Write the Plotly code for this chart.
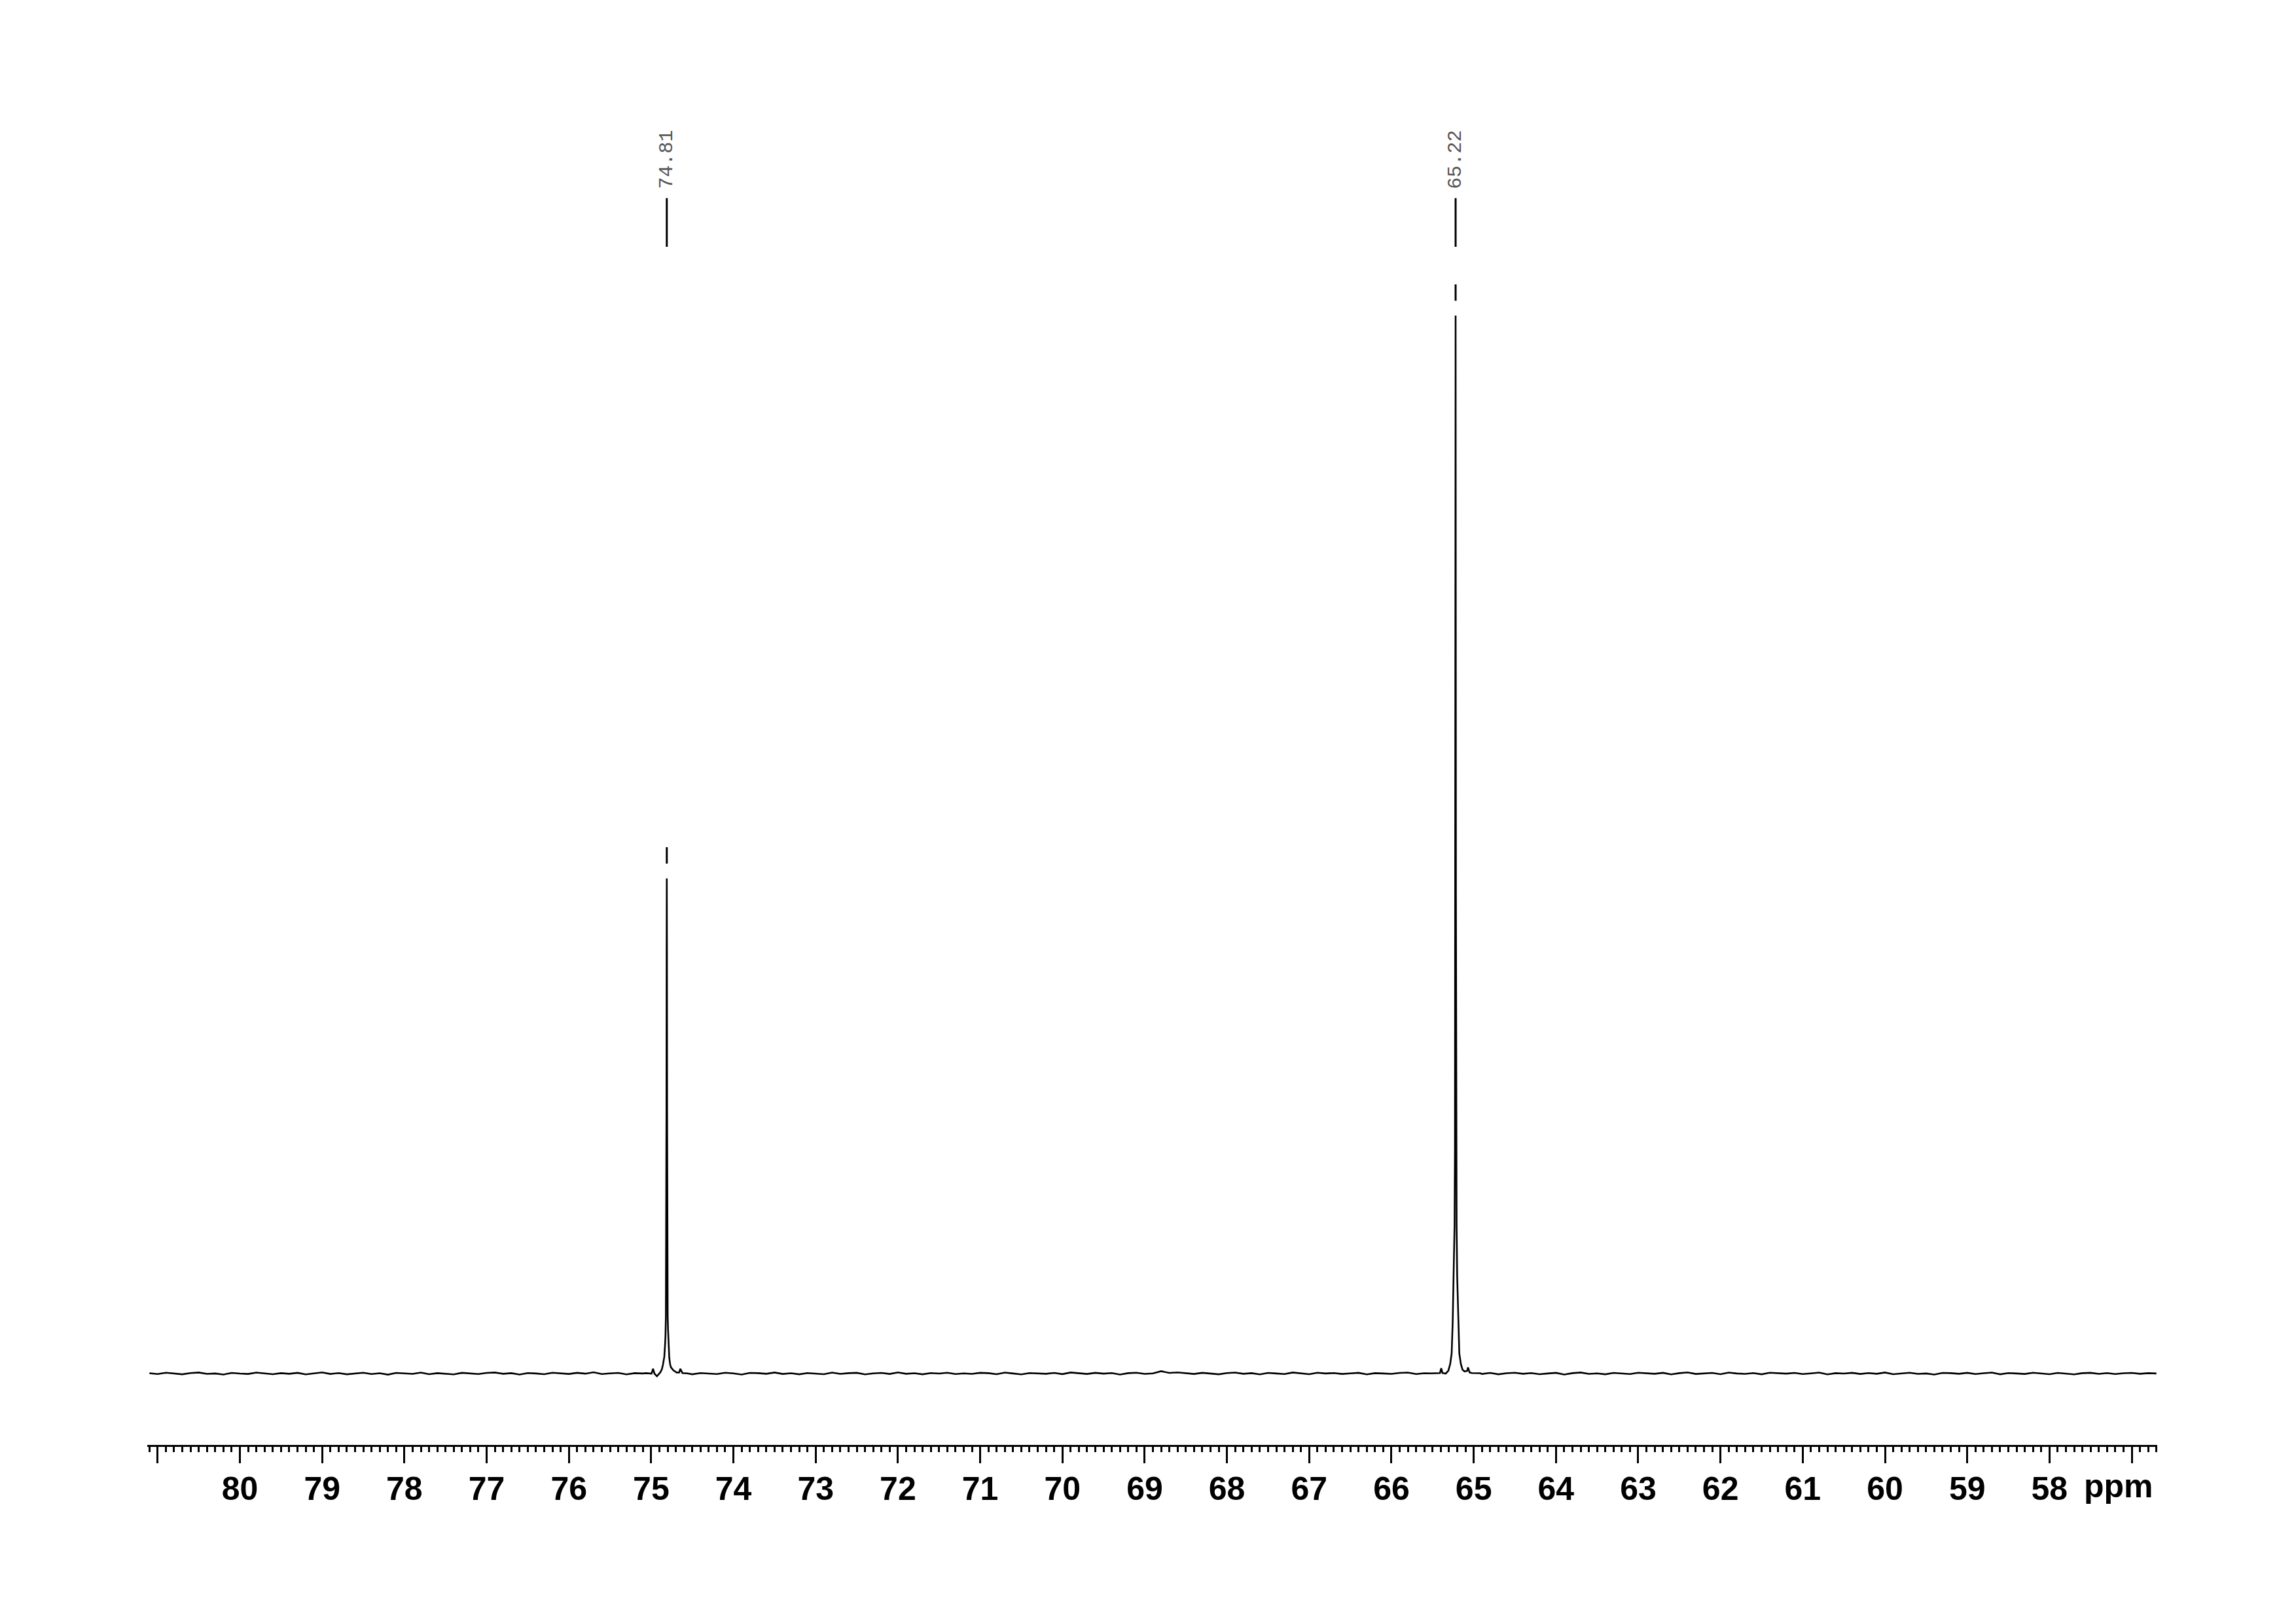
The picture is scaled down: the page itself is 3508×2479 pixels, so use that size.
import plotly.graph_objects as go

# ---- peaks ----
peak_ppm = [74.81, 65.22]
peak_labels = ["74.81", "65.22"]
peak_height = [46.8, 100.0]

# hand-read line-shape profiles around each peak (offset in ppm, intensity)
peak1_offset = [-0.25, -0.19, -0.165, -0.15, -0.12, -0.08, -0.05, -0.04, -0.03, -0.021,
                -0.015, -0.011, -0.007, -0.004, -0.002, 0.0, 0.002, 0.004, 0.007, 0.011,
                0.016, 0.022, 0.03, 0.045, 0.06, 0.08, 0.12, 0.15, 0.167, 0.185, 0.25]
peak1_intensity = [0.02, 0.05, 0.45, 0.10, 0.10, 0.30, 0.60, 0.90, 1.50, 2.95,
                   4.20, 5.40, 12.0, 25.0, 40.0, 46.8, 40.0, 25.0, 12.0, 5.40,
                   3.50, 2.60, 1.60, 0.90, 0.40, 0.10, -0.25, 0.00, 0.45, 0.00, 0.04]

peak2_offset = [-0.30, -0.20, -0.17, -0.151, -0.14, -0.11, -0.085, -0.064, -0.045, -0.037,
                -0.019, -0.012, -0.008, -0.004, 0.0, 0.004, 0.008, 0.013, 0.024, 0.035,
                0.048, 0.066, 0.088, 0.12, 0.16, 0.175, 0.19, 0.30]
peak2_intensity = [0.03, 0.05, 0.10, 0.58, 0.25, 0.20, 0.35, 0.90, 1.90, 5.00,
                   9.20, 14.0, 21.0, 45.0, 100.0, 45.0, 21.0, 14.0, 9.20, 5.00,
                   1.90, 0.90, 0.27, 0.00, 0.05, 0.50, 0.05, 0.02]

# baseline noise (estimated), sampled every 0.1 ppm from 81.1 ppm downward
baseline_start = 81.1
baseline_step = 0.1
baseline_noise = [
    0.03, -0.05, 0.08, 0.02, -0.07, 0.05, 0.10, -0.03, 0.01, -0.09, 0.06, 0.00, -0.04, 0.09, 0.03, -0.06, 0.04, -0.02, 0.07, -0.08,
    0.02, 0.11, -0.04, 0.05, -0.07, 0.01, 0.08, -0.05, 0.03, -0.10, 0.06, 0.02, -0.03, 0.09, -0.06, 0.04, 0.00, -0.08, 0.07, 0.03,
    -0.05, 0.06, 0.10, -0.02, 0.04, -0.09, 0.05, 0.01, -0.06, 0.08, 0.03, -0.04, 0.07, -0.01, 0.12, -0.05, 0.02, 0.06, -0.08, 0.04,
    0.01, -0.06, 0.09, 0.03, -0.03, 0.07, -0.07, 0.05, 0.00, -0.05, 0.08, 0.02, -0.09, 0.06, 0.04, -0.02, 0.10, -0.04, 0.03, -0.07,
    0.05, 0.01, -0.06, 0.09, -0.03, 0.04, 0.07, -0.08, 0.02, 0.06, -0.04, 0.11, -0.02, 0.03, -0.07, 0.05, 0.00, 0.08, -0.05, 0.02,
    -0.03, 0.07, 0.04, -0.06, 0.09, 0.01, -0.08, 0.05, 0.03, -0.02, 0.06, -0.05, 0.10, 0.02, -0.04, 0.07, -0.01, 0.05, -0.09, 0.04,
    0.08, -0.03, 0.02, 0.22, 0.06, 0.11, 0.03, -0.04, 0.07, 0.00, -0.07, 0.05, 0.09, -0.02, 0.04, -0.08, 0.06, 0.01, -0.05, 0.10,
    0.03, -0.06, 0.08, 0.01, 0.05, -0.04, 0.02, 0.07, -0.08, 0.04, 0.01, -0.03, 0.06, 0.09, -0.05, 0.03, -0.01, 0.07, -0.06, 0.05,
    0.02, 0.09, -0.04, 0.06, -0.07, 0.03, 0.08, -0.02, 0.05, -0.06, 0.01, 0.07, -0.09, 0.04, 0.10, -0.03, 0.02, -0.07, 0.06, 0.00,
    -0.05, 0.08, 0.03, -0.02, 0.07, -0.08, 0.04, 0.11, -0.04, 0.02, 0.06, -0.06, 0.09, 0.01, -0.03, 0.05, -0.07, 0.08, 0.03, -0.01,
    0.06, -0.05, 0.02, 0.09, -0.08, 0.04, 0.00, 0.07, -0.04, 0.05, -0.02, 0.10, -0.06, 0.03, 0.08, -0.03, 0.01, -0.09, 0.06, 0.04,
    -0.02, 0.07, -0.05, 0.03, 0.09, -0.07, 0.05, 0.01, -0.04, 0.08, 0.02, -0.06, 0.06, 0.00, -0.08, 0.04, 0.07, -0.03, 0.05, -0.05,
    0.03, 0.06, -0.02, 0.04, 0.01,
]

# axis ticks
tick_values = [81, 80, 79, 78, 77, 76, 75, 74, 73, 72, 71, 70, 69, 68, 67, 66, 65, 64, 63, 62, 61, 60, 59, 58, 57]
tick_text = ["", "80", "79", "78", "77", "76", "75", "74", "73", "72", "71", "70", "69", "68",
             "67", "66", "65", "64", "63", "62", "61", "60", "59", "58", ""]
axis_unit = "ppm"

# ---- assemble spectrum points ----
points = []
for i, v in enumerate(baseline_noise):
    x = baseline_start - baseline_step * i
    if abs(x - peak_ppm[0]) > 0.25 and abs(x - peak_ppm[1]) > 0.30:
        points.append((x, v))
for off, inten in zip(peak1_offset, peak1_intensity):
    points.append((peak_ppm[0] + off, inten))
for off, inten in zip(peak2_offset, peak2_intensity):
    points.append((peak_ppm[1] + off, inten))
points.sort(key=lambda p: -p[0])
spec_x = [p[0] for p in points]
spec_y = [p[1] for p in points]

TICK_FONT = dict(family="Liberation Sans, Arial", size=50, color="black", weight="bold")

fig = go.Figure()
fig.add_trace(go.Scatter(x=spec_x, y=spec_y, mode="lines",
                         line=dict(color="black", width=2.6), hoverinfo="skip",
                         showlegend=False))

# peak labels
LBL_BOT, LBL_TOP = 106.5, 111.1
for p, h, lab in zip(peak_ppm, peak_height, peak_labels):
    fig.add_shape(type="line", x0=p, x1=p, y0=LBL_BOT, y1=LBL_TOP, xref="x", yref="y",
                  line=dict(color="black", width=3))
    fig.add_shape(type="line", x0=p, x1=p, y0=h + 1.4, y1=h + 2.95, xref="x", yref="y",
                  line=dict(color="black", width=3))
    fig.add_annotation(x=p, y=LBL_TOP, xref="x", yref="y", text=lab, showarrow=False,
                       textangle=-90, yanchor="bottom", xanchor="center", yshift=12,
                       font=dict(family="Liberation Mono", size=30, color="#555555"))

fig.add_annotation(x=1, y=0, xref="paper", yref="paper", text=axis_unit, showarrow=False,
                   xanchor="right", yanchor="top", xshift=-4, yshift=-33,
                   font=TICK_FONT)

fig.update_layout(
    width=3508, height=2479,
    margin=dict(l=217, r=220, t=92, b=280),
    paper_bgcolor="white", plot_bgcolor="white",
    xaxis=dict(
        range=[81.126, 56.69], showgrid=False, zeroline=False,
        showline=True, linecolor="black", linewidth=2.5,
        tickmode="array", tickvals=tick_values, ticktext=tick_text,
        ticks="outside", ticklen=25, tickwidth=3, tickcolor="black",
        ticklabelstandoff=-4,
        tickfont=TICK_FONT,
        minor=dict(tickmode="linear", tick0=0, dtick=0.1, ticks="outside",
                   ticklen=8, tickwidth=2.5, tickcolor="black", showgrid=False),
    ),
    yaxis=dict(visible=False, range=[-6.745, 123.64], fixedrange=True),
)

fig.write_html("out.html")
